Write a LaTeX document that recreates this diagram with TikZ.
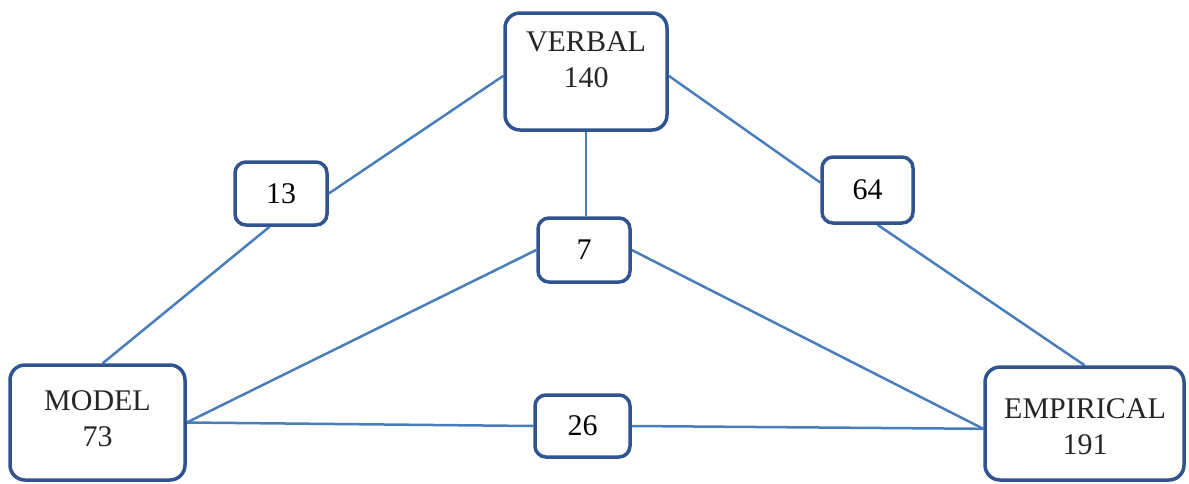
\documentclass[tikz,border=0pt]{standalone}
\usepackage{fontspec}
\setmainfont{Liberation Serif}
\usetikzlibrary{backgrounds}
\definecolor{boxblue}{RGB}{47,84,143}
\definecolor{lineblue}{RGB}{74,126,187}
\begin{document}
\begin{tikzpicture}[x=1pt,y=-1pt,
  bigbox/.style={draw=boxblue,line width=3.5pt,rounded corners=15pt,fill=white,inner sep=0pt},
  smallbox/.style={draw=boxblue,line width=3.5pt,rounded corners=11pt,fill=white,inner sep=0pt,
    font=\fontsize{30}{36}\selectfont},
  boxtext/.style={align=center,inner sep=0pt,font=\fontsize{30}{36}\selectfont,text=black!85},
  link/.style={draw=lineblue,line width=2.5pt}]
\useasboundingbox (0,0) rectangle (1189,483);
% main boxes
\node[bigbox,minimum width=162pt,minimum height=117pt] (verbal) at (586,71.5) {};
\node[bigbox,minimum width=175pt,minimum height=115pt] (model) at (97.5,422.5) {};
\node[bigbox,minimum width=199pt,minimum height=113pt] (emp) at (1084.5,423.5) {};
\node[boxtext] (verbalt) at (586,60) {VERBAL\\140};
\node[boxtext] (modelt) at (97.5,419) {MODEL\\73};
\node[boxtext] (empt) at (1085,426.5) {EMPIRICAL\\191};
% count boxes
\node[smallbox,minimum width=92pt,minimum height=63pt] (v13) at (281,193.5) {13};
\node[smallbox,minimum width=92pt,minimum height=64pt] (v7) at (584,250) {7};
\node[smallbox,minimum width=95pt,minimum height=62pt] (v26) at (582.5,426) {26};
\node[smallbox,minimum width=91pt,minimum height=66pt] (v64) at (867.5,190) {64};
% connectors
\begin{scope}[on background layer]
\draw[link] (verbal.183) -- (v13.east);
\draw[link] (v13.251) -- (model.85);
\draw[link] (verbal.-3) -- (v64.171);
\draw[link] (v64.-74) -- (emp.north);
\draw[link] (verbal.south) -- (verbal.south |- v7.north);
\draw[link] (v7.west) -- (model.east);
\draw[link] (v7.east) -- (emp.183);
\draw[link] (model.east) -- (v26.west);
\draw[link] (v26.east) -- (emp.183);
\end{scope}
\end{tikzpicture}
\end{document}
